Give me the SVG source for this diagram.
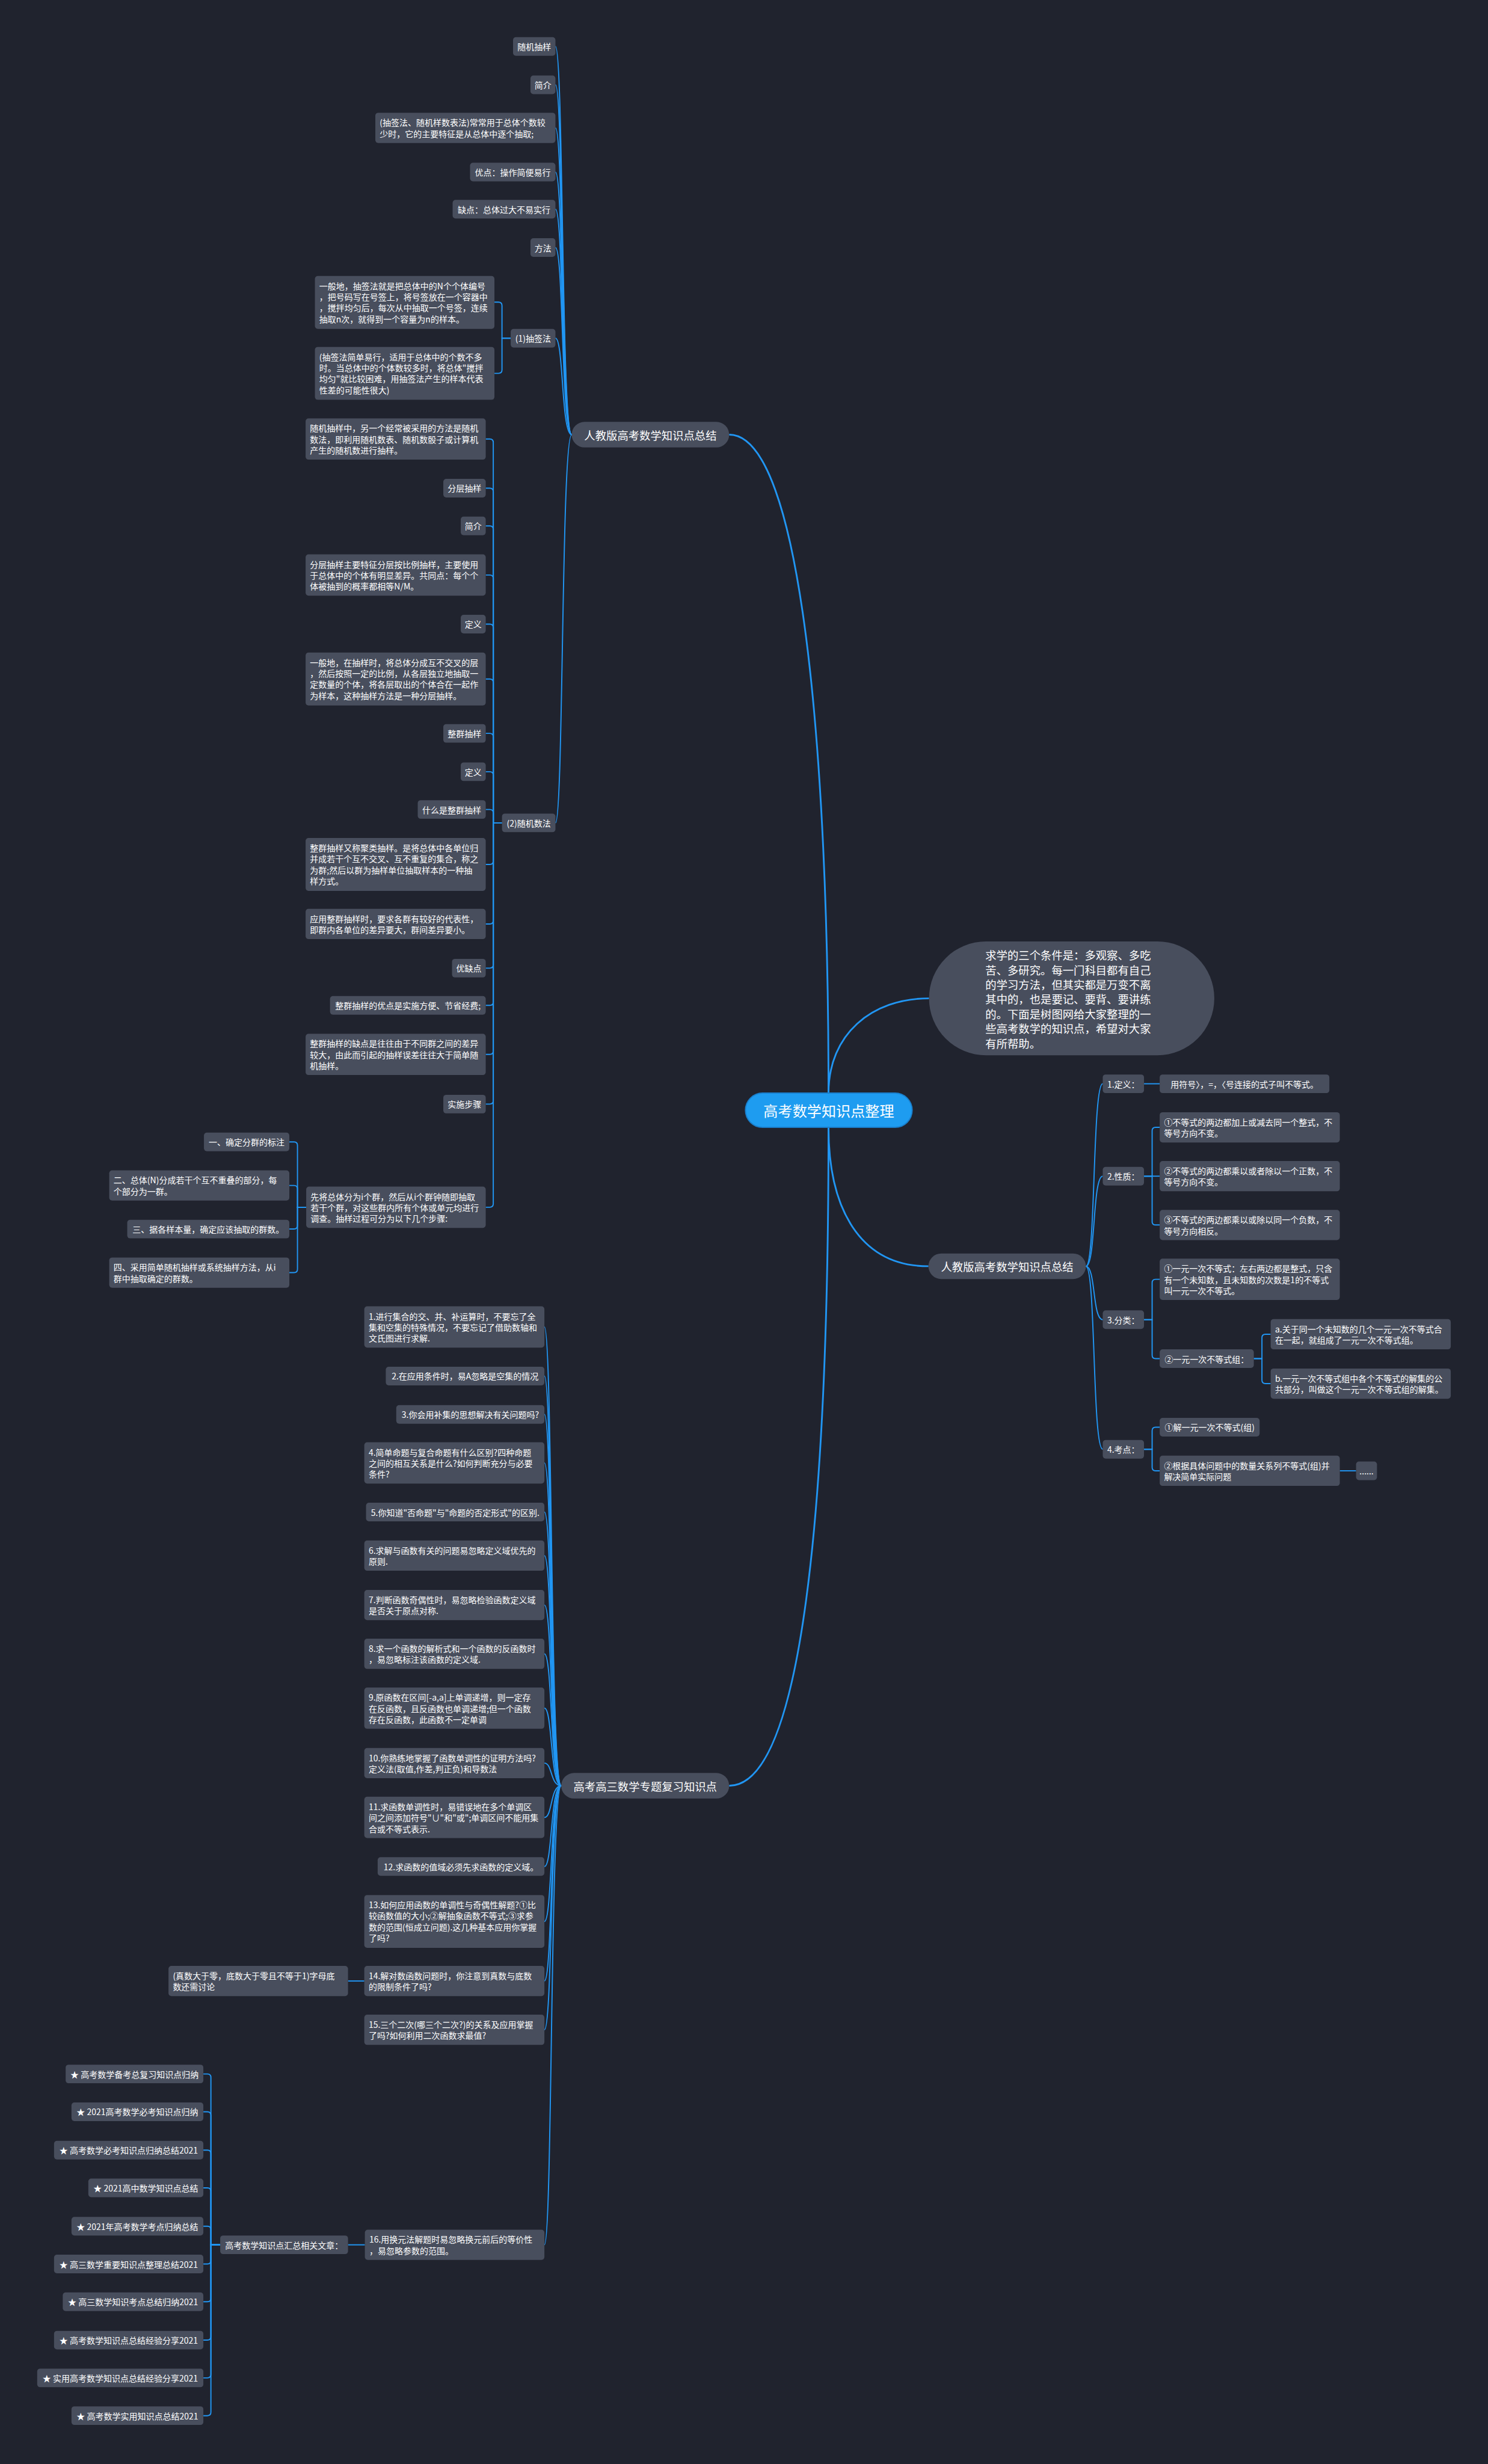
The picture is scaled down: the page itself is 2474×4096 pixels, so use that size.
<svg xmlns="http://www.w3.org/2000/svg" width="2474" height="4096" viewBox="0 0 2474 4096">
<style>
.nd{fill:#484e5d;}
.l1{fill:#484e5d;}
.t{font-family:"Noto Sans CJK SC","Liberation Sans",sans-serif;font-size:14.5px;fill:#ffffff;dominant-baseline:central;}
.m{text-anchor:middle;}
.t1{font-family:"Noto Sans CJK SC","Liberation Sans",sans-serif;font-size:19px;fill:#ffffff;dominant-baseline:central;}
.c{fill:none;stroke:#2196f3;stroke-width:2;}
.c3{fill:none;stroke:#2196f3;stroke-width:3;}
</style>
<rect x="0" y="0" width="2474" height="4096" fill="#20232e"/>
<g transform="scale(0.966)">
<g id="connectors">
<path class="c3" d="M1426 1881 C1426 1300 1380 748 1255 748"/>
<path class="c3" d="M1426 1881 C1426 1780 1500 1718 1599 1718"/>
<path class="c3" d="M1426 1940 C1426 2080 1480 2179 1598 2179"/>
<path class="c3" d="M1426 1940 C1426 2600 1380 3073 1255 3073"/>
<path class="c" d="M956 80 C970 80 966 748 984 748"/>
<path class="c" d="M956 146 C970 146 966 748 984 748"/>
<path class="c" d="M956 220 C970 220 966 748 984 748"/>
<path class="c" d="M956 296 C970 296 966 748 984 748"/>
<path class="c" d="M956 360 C970 360 966 748 984 748"/>
<path class="c" d="M956 426 C970 426 966 748 984 748"/>
<path class="c" d="M956 582 C970 582 966 748 984 748"/>
<path class="c" d="M956 1416 C970 1416 966 748 984 748"/>
<path class="c" d="M879 582 H864 V526 Q864 520 858 520 H851"/>
<path class="c" d="M879 582 H864 V636.5 Q864 642.5 858 642.5 H851"/>
<path class="c" d="M864 1416 H849 V761.5 Q849 755.5 843 755.5 H836"/>
<path class="c" d="M864 1416 H849 V846 Q849 840 843 840 H836"/>
<path class="c" d="M864 1416 H849 V911 Q849 905 843 905 H836"/>
<path class="c" d="M864 1416 H849 V995.5 Q849 989.5 843 989.5 H836"/>
<path class="c" d="M864 1416 H849 V1080 Q849 1074 843 1074 H836"/>
<path class="c" d="M864 1416 H849 V1174.5 Q849 1168.5 843 1168.5 H836"/>
<path class="c" d="M864 1416 H849 V1268 Q849 1262 843 1262 H836"/>
<path class="c" d="M864 1416 H849 V1334 Q849 1328 843 1328 H836"/>
<path class="c" d="M864 1416 H849 V1399 Q849 1393 843 1393 H836"/>
<path class="c" d="M864 1416 H849 V1481.5 Q849 1487.5 843 1487.5 H836"/>
<path class="c" d="M864 1416 H849 V1584 Q849 1590 843 1590 H836"/>
<path class="c" d="M864 1416 H849 V1660 Q849 1666 843 1666 H836"/>
<path class="c" d="M864 1416 H849 V1724 Q849 1730 843 1730 H836"/>
<path class="c" d="M864 1416 H849 V1808.5 Q849 1814.5 843 1814.5 H836"/>
<path class="c" d="M864 1416 H849 V1894 Q849 1900 843 1900 H836"/>
<path class="c" d="M864 1416 H849 V2071.5 Q849 2077.5 843 2077.5 H836"/>
<path class="c" d="M527 2077.5 H512 V1971 Q512 1965 506 1965 H498"/>
<path class="c" d="M527 2077.5 H512 V2046 Q512 2040 506 2040 H498"/>
<path class="c" d="M527 2077.5 H512 V2109 Q512 2115 506 2115 H498"/>
<path class="c" d="M527 2077.5 H512 V2184 Q512 2190 506 2190 H498"/>
<path class="c" d="M1869 2179 C1886 2179 1880 1865 1898 1865"/>
<path class="c" d="M1869 2179 C1886 2179 1880 2024 1898 2024"/>
<path class="c" d="M1869 2179 C1886 2179 1880 2271 1898 2271"/>
<path class="c" d="M1869 2179 C1886 2179 1880 2494 1898 2494"/>
<path class="c" d="M1969 1865 H1996"/>
<path class="c" d="M1969 2024 H1983 V1946 Q1983 1940 1989 1940 H1996"/>
<path class="c" d="M1969 2024 H1996"/>
<path class="c" d="M1969 2024 H1983 V2102 Q1983 2108 1989 2108 H1996"/>
<path class="c" d="M1969 2271 H1983 V2207.5 Q1983 2201.5 1989 2201.5 H1996"/>
<path class="c" d="M1969 2271 H1983 V2332 Q1983 2338 1989 2338 H1996"/>
<path class="c" d="M2158 2338 H2172 V2302 Q2172 2296 2178 2296 H2187"/>
<path class="c" d="M2158 2338 H2172 V2375 Q2172 2381 2178 2381 H2187"/>
<path class="c" d="M1969 2494 H1983 V2462 Q1983 2456 1989 2456 H1996"/>
<path class="c" d="M1969 2494 H1983 V2525 Q1983 2531 1989 2531 H1996"/>
<path class="c" d="M2306 2531 H2334"/>
<path class="c" d="M937 2283.5 C951 2283.5 947 3073 966 3073"/>
<path class="c" d="M937 2368 C951 2368 947 3073 966 3073"/>
<path class="c" d="M937 2434 C951 2434 947 3073 966 3073"/>
<path class="c" d="M937 2517.5 C951 2517.5 947 3073 966 3073"/>
<path class="c" d="M937 2602 C951 2602 947 3073 966 3073"/>
<path class="c" d="M937 2677 C951 2677 947 3073 966 3073"/>
<path class="c" d="M937 2762 C951 2762 947 3073 966 3073"/>
<path class="c" d="M937 2846 C951 2846 947 3073 966 3073"/>
<path class="c" d="M937 2939.5 C951 2939.5 947 3073 966 3073"/>
<path class="c" d="M937 3034 C951 3034 947 3073 966 3073"/>
<path class="c" d="M937 3127.5 C951 3127.5 947 3073 966 3073"/>
<path class="c" d="M937 3212 C951 3212 947 3073 966 3073"/>
<path class="c" d="M937 3306.5 C951 3306.5 947 3073 966 3073"/>
<path class="c" d="M937 3409 C951 3409 947 3073 966 3073"/>
<path class="c" d="M937 3493 C951 3493 947 3073 966 3073"/>
<path class="c" d="M937 3863 C951 3863 947 3073 966 3073"/>
<path class="c" d="M627 3409 H599"/>
<path class="c" d="M628 3863 H599"/>
<path class="c" d="M379 3863 H363 V3575 Q363 3569 357 3569 H350"/>
<path class="c" d="M379 3863 H363 V3640 Q363 3634 357 3634 H350"/>
<path class="c" d="M379 3863 H363 V3706 Q363 3700 357 3700 H350"/>
<path class="c" d="M379 3863 H363 V3771 Q363 3765 357 3765 H350"/>
<path class="c" d="M379 3863 H363 V3837 Q363 3831 357 3831 H350"/>
<path class="c" d="M379 3863 H363 V3890 Q363 3896 357 3896 H350"/>
<path class="c" d="M379 3863 H363 V3955 Q363 3961 357 3961 H350"/>
<path class="c" d="M379 3863 H363 V4021 Q363 4027 357 4027 H350"/>
<path class="c" d="M379 3863 H363 V4086 Q363 4092 357 4092 H350"/>
<path class="c" d="M379 3863 H363 V4151 Q363 4157 357 4157 H350"/>
</g>

<g id="root"><rect x="1283" y="1881" width="287" height="59" rx="29.5" fill="#1e9cf0" stroke="#1a7fcc" stroke-width="2"/><text x="1426.5" y="1910.5" class="t1 m" style="font-size:25px">高考数学知识点整理</text></g>

<g id="intro"><rect x="1599" y="1620" width="491" height="196" rx="98" class="l1"/><text class="t1" style="font-size:19px"><tspan x="1696" y="1643">求学的三个条件是：多观察、多吃</tspan><tspan x="1696" y="1668.3">苦、多研究。每一门科目都有自己</tspan><tspan x="1696" y="1693.6">的学习方法，但其实都是万变不离</tspan><tspan x="1696" y="1718.9">其中的，也是要记、要背、要讲练</tspan><tspan x="1696" y="1744.2">的。下面是树图网给大家整理的一</tspan><tspan x="1696" y="1769.5">些高考数学的知识点，希望对大家</tspan><tspan x="1696" y="1794.8">有所帮助。</tspan></text></g>

<g id="b1"><rect x="984" y="726" width="271" height="44" rx="22" class="l1"/><text x="1119.5" y="748" class="t1 m">人教版高考数学知识点总结</text></g>
<g id="b2"><rect x="1598" y="2157" width="271" height="44" rx="22" class="l1"/><text x="1733.5" y="2179" class="t1 m">人教版高考数学知识点总结</text></g>
<g id="b3"><rect x="966" y="3051" width="289" height="44" rx="22" class="l1"/><text x="1110.5" y="3073" class="t1 m">高考高三数学专题复习知识点</text></g>

<g id="n1"><rect x="883" y="64" width="73" height="32" rx="5" class="nd"/><text x="919.5" y="80" class="t m">随机抽样</text></g>
<g id="n2"><rect x="913" y="130" width="43" height="32" rx="5" class="nd"/><text x="934.5" y="146" class="t m">简介</text></g>
<g id="n3"><rect x="646" y="194" width="310" height="52" rx="5" class="nd"/><text class="t"><tspan x="653.5" y="210.5">(抽签法、随机样数表法)常常用于总体个数较</tspan><tspan x="653.5" y="229.5">少时，它的主要特征是从总体中逐个抽取;</tspan></text></g>
<g id="n4"><rect x="809" y="280" width="147" height="32" rx="5" class="nd"/><text x="882.5" y="296" class="t m">优点：操作简便易行</text></g>
<g id="n5"><rect x="779" y="344" width="177" height="32" rx="5" class="nd"/><text x="867.5" y="360" class="t m">缺点：总体过大不易实行</text></g>
<g id="n6"><rect x="913" y="410" width="43" height="32" rx="5" class="nd"/><text x="934.5" y="426" class="t m">方法</text></g>
<g id="n7"><rect x="879" y="566" width="77" height="32" rx="5" class="nd"/><text x="917.5" y="582" class="t m">(1)抽签法</text></g>
<g id="n7a"><rect x="542" y="475" width="309" height="91" rx="5" class="nd"/><text class="t"><tspan x="549.5" y="491.5">一般地，抽签法就是把总体中的N个个体编号</tspan><tspan x="549.5" y="510.5">，把号码写在号签上，将号签放在一个容器中</tspan><tspan x="549.5" y="529.5">，搅拌均匀后，每次从中抽取一个号签，连续</tspan><tspan x="549.5" y="548.5">抽取n次，就得到一个容量为n的样本。</tspan></text></g>
<g id="n7b"><rect x="542" y="597" width="309" height="91" rx="5" class="nd"/><text class="t"><tspan x="549.5" y="613.5">(抽签法简单易行，适用于总体中的个数不多</tspan><tspan x="549.5" y="632.5">时。当总体中的个体数较多时，将总体"搅拌</tspan><tspan x="549.5" y="651.5">均匀"就比较困难，用抽签法产生的样本代表</tspan><tspan x="549.5" y="670.5">性差的可能性很大)</tspan></text></g>
<g id="n8"><rect x="864" y="1400" width="92" height="32" rx="5" class="nd"/><text x="910" y="1416" class="t m">(2)随机数法</text></g>
<g id="n8a"><rect x="526" y="720" width="310" height="71" rx="5" class="nd"/><text class="t"><tspan x="533.5" y="736.5">随机抽样中，另一个经常被采用的方法是随机</tspan><tspan x="533.5" y="755.5">数法，即利用随机数表、随机数骰子或计算机</tspan><tspan x="533.5" y="774.5">产生的随机数进行抽样。</tspan></text></g>
<g id="n8b"><rect x="763" y="824" width="73" height="32" rx="5" class="nd"/><text x="799.5" y="840" class="t m">分层抽样</text></g>
<g id="n8c"><rect x="793" y="889" width="43" height="32" rx="5" class="nd"/><text x="814.5" y="905" class="t m">简介</text></g>
<g id="n8d"><rect x="526" y="954" width="310" height="71" rx="5" class="nd"/><text class="t"><tspan x="533.5" y="970.5">分层抽样主要特征分层按比例抽样，主要使用</tspan><tspan x="533.5" y="989.5">于总体中的个体有明显差异。共同点：每个个</tspan><tspan x="533.5" y="1008.5">体被抽到的概率都相等N/M。</tspan></text></g>
<g id="n8e"><rect x="793" y="1058" width="43" height="32" rx="5" class="nd"/><text x="814.5" y="1074" class="t m">定义</text></g>
<g id="n8f"><rect x="526" y="1123" width="310" height="91" rx="5" class="nd"/><text class="t"><tspan x="533.5" y="1139.5">一般地，在抽样时，将总体分成互不交叉的层</tspan><tspan x="533.5" y="1158.5">，然后按照一定的比例，从各层独立地抽取一</tspan><tspan x="533.5" y="1177.5">定数量的个体，将各层取出的个体合在一起作</tspan><tspan x="533.5" y="1196.5">为样本，这种抽样方法是一种分层抽样。</tspan></text></g>
<g id="n8g"><rect x="763" y="1246" width="73" height="32" rx="5" class="nd"/><text x="799.5" y="1262" class="t m">整群抽样</text></g>
<g id="n8h"><rect x="793" y="1312" width="43" height="32" rx="5" class="nd"/><text x="814.5" y="1328" class="t m">定义</text></g>
<g id="n8i"><rect x="719" y="1377" width="117" height="32" rx="5" class="nd"/><text x="777.5" y="1393" class="t m">什么是整群抽样</text></g>
<g id="n8j"><rect x="526" y="1442" width="310" height="91" rx="5" class="nd"/><text class="t"><tspan x="533.5" y="1458.5">整群抽样又称聚类抽样。是将总体中各单位归</tspan><tspan x="533.5" y="1477.5">并成若干个互不交叉、互不重复的集合，称之</tspan><tspan x="533.5" y="1496.5">为群;然后以群为抽样单位抽取样本的一种抽</tspan><tspan x="533.5" y="1515.5">样方式。</tspan></text></g>
<g id="n8k"><rect x="526" y="1564" width="310" height="52" rx="5" class="nd"/><text class="t"><tspan x="533.5" y="1580.5">应用整群抽样时，要求各群有较好的代表性，</tspan><tspan x="533.5" y="1599.5">即群内各单位的差异要大，群间差异要小。</tspan></text></g>
<g id="n8l"><rect x="778" y="1650" width="58" height="32" rx="5" class="nd"/><text x="807" y="1666" class="t m">优缺点</text></g>
<g id="n8m"><rect x="568" y="1714" width="268" height="32" rx="5" class="nd"/><text x="702" y="1730" class="t m">整群抽样的优点是实施方便、节省经费;</text></g>
<g id="n8n"><rect x="526" y="1779" width="310" height="71" rx="5" class="nd"/><text class="t"><tspan x="533.5" y="1795.5">整群抽样的缺点是往往由于不同群之间的差异</tspan><tspan x="533.5" y="1814.5">较大，由此而引起的抽样误差往往大于简单随</tspan><tspan x="533.5" y="1833.5">机抽样。</tspan></text></g>
<g id="n8o"><rect x="763" y="1884" width="73" height="32" rx="5" class="nd"/><text x="799.5" y="1900" class="t m">实施步骤</text></g>
<g id="n8p"><rect x="527" y="2042" width="309" height="71" rx="5" class="nd"/><text class="t"><tspan x="534.5" y="2058.5">先将总体分为i个群，然后从i个群钟随即抽取</tspan><tspan x="534.5" y="2077.5">若干个群，对这些群内所有个体或单元均进行</tspan><tspan x="534.5" y="2096.5">调查。抽样过程可分为以下几个步骤:</tspan></text></g>
<g id="n8p1"><rect x="351" y="1949" width="147" height="32" rx="5" class="nd"/><text x="424.5" y="1965" class="t m">一、确定分群的标注</text></g>
<g id="n8p2"><rect x="188" y="2014" width="310" height="52" rx="5" class="nd"/><text class="t"><tspan x="195.5" y="2030.5">二、总体(N)分成若干个互不重叠的部分，每</tspan><tspan x="195.5" y="2049.5">个部分为一群。</tspan></text></g>
<g id="n8p3"><rect x="219" y="2099" width="279" height="32" rx="5" class="nd"/><text x="358.5" y="2115" class="t m">三、据各样本量，确定应该抽取的群数。</text></g>
<g id="n8p4"><rect x="188" y="2164" width="310" height="52" rx="5" class="nd"/><text class="t"><tspan x="195.5" y="2180.5">四、采用简单随机抽样或系统抽样方法，从i</tspan><tspan x="195.5" y="2199.5">群中抽取确定的群数。</tspan></text></g>

<g id="r1"><rect x="1898" y="1849" width="71" height="32" rx="5" class="nd"/><text x="1933.5" y="1865" class="t m">1.定义：</text></g>
<g id="r1a"><rect x="1996" y="1849" width="292" height="32" rx="5" class="nd"/><text x="2142" y="1865" class="t m">用符号〉，=，〈号连接的式子叫不等式。</text></g>
<g id="r2"><rect x="1898" y="2008" width="71" height="32" rx="5" class="nd"/><text x="1933.5" y="2024" class="t m">2.性质：</text></g>
<g id="r2a"><rect x="1996" y="1914" width="310" height="52" rx="5" class="nd"/><text class="t"><tspan x="2003.5" y="1930.5">①不等式的两边都加上或减去同一个整式，不</tspan><tspan x="2003.5" y="1949.5">等号方向不变。</tspan></text></g>
<g id="r2b"><rect x="1996" y="1998" width="310" height="52" rx="5" class="nd"/><text class="t"><tspan x="2003.5" y="2014.5">②不等式的两边都乘以或者除以一个正数，不</tspan><tspan x="2003.5" y="2033.5">等号方向不变。</tspan></text></g>
<g id="r2c"><rect x="1996" y="2082" width="310" height="52" rx="5" class="nd"/><text class="t"><tspan x="2003.5" y="2098.5">③不等式的两边都乘以或除以同一个负数，不</tspan><tspan x="2003.5" y="2117.5">等号方向相反。</tspan></text></g>
<g id="r3"><rect x="1898" y="2255" width="71" height="32" rx="5" class="nd"/><text x="1933.5" y="2271" class="t m">3.分类：</text></g>
<g id="r3a"><rect x="1996" y="2166" width="310" height="71" rx="5" class="nd"/><text class="t"><tspan x="2003.5" y="2182.5">①一元一次不等式：左右两边都是整式，只含</tspan><tspan x="2003.5" y="2201.5">有一个未知数，且未知数的次数是1的不等式</tspan><tspan x="2003.5" y="2220.5">叫一元一次不等式。</tspan></text></g>
<g id="r3b"><rect x="1996" y="2322" width="162" height="32" rx="5" class="nd"/><text x="2077" y="2338" class="t m">②一元一次不等式组：</text></g>
<g id="r3b1"><rect x="2187" y="2270" width="310" height="52" rx="5" class="nd"/><text class="t"><tspan x="2194.5" y="2286.5">a.关于同一个未知数的几个一元一次不等式合</tspan><tspan x="2194.5" y="2305.5">在一起，就组成了一元一次不等式组。</tspan></text></g>
<g id="r3b2"><rect x="2187" y="2355" width="310" height="52" rx="5" class="nd"/><text class="t"><tspan x="2194.5" y="2371.5">b.一元一次不等式组中各个不等式的解集的公</tspan><tspan x="2194.5" y="2390.5">共部分，叫做这个一元一次不等式组的解集。</tspan></text></g>
<g id="r4"><rect x="1898" y="2478" width="71" height="32" rx="5" class="nd"/><text x="1933.5" y="2494" class="t m">4.考点：</text></g>
<g id="r4a"><rect x="1996" y="2440" width="172" height="32" rx="5" class="nd"/><text x="2082" y="2456" class="t m">①解一元一次不等式(组)</text></g>
<g id="r4b"><rect x="1996" y="2505" width="310" height="52" rx="5" class="nd"/><text class="t"><tspan x="2003.5" y="2521.5">②根据具体问题中的数量关系列不等式(组)并</tspan><tspan x="2003.5" y="2540.5">解决简单实际问题</tspan></text></g>
<g id="r4b1"><rect x="2334" y="2515" width="36" height="32" rx="5" class="nd"/><text x="2352" y="2531" class="t m">......</text></g>

<g id="q1"><rect x="627" y="2248" width="310" height="71" rx="5" class="nd"/><text class="t"><tspan x="634.5" y="2264.5">1.进行集合的交、并、补运算时，不要忘了全</tspan><tspan x="634.5" y="2283.5">集和空集的特殊情况，不要忘记了借助数轴和</tspan><tspan x="634.5" y="2302.5">文氏图进行求解.</tspan></text></g>
<g id="q2"><rect x="664" y="2352" width="273" height="32" rx="5" class="nd"/><text x="800.5" y="2368" class="t m">2.在应用条件时，易A忽略是空集的情况</text></g>
<g id="q3"><rect x="682" y="2418" width="255" height="32" rx="5" class="nd"/><text x="809.5" y="2434" class="t m">3.你会用补集的思想解决有关问题吗?</text></g>
<g id="q4"><rect x="627" y="2482" width="310" height="71" rx="5" class="nd"/><text class="t"><tspan x="634.5" y="2498.5">4.简单命题与复合命题有什么区别?四种命题</tspan><tspan x="634.5" y="2517.5">之间的相互关系是什么?如何判断充分与必要</tspan><tspan x="634.5" y="2536.5">条件?</tspan></text></g>
<g id="q5"><rect x="630" y="2586" width="307" height="32" rx="5" class="nd"/><text x="783.5" y="2602" class="t m">5.你知道"否命题"与"命题的否定形式"的区别.</text></g>
<g id="q6"><rect x="627" y="2651" width="310" height="52" rx="5" class="nd"/><text class="t"><tspan x="634.5" y="2667.5">6.求解与函数有关的问题易忽略定义域优先的</tspan><tspan x="634.5" y="2686.5">原则.</tspan></text></g>
<g id="q7"><rect x="627" y="2736" width="310" height="52" rx="5" class="nd"/><text class="t"><tspan x="634.5" y="2752.5">7.判断函数奇偶性时，易忽略检验函数定义域</tspan><tspan x="634.5" y="2771.5">是否关于原点对称.</tspan></text></g>
<g id="q8"><rect x="627" y="2820" width="310" height="52" rx="5" class="nd"/><text class="t"><tspan x="634.5" y="2836.5">8.求一个函数的解析式和一个函数的反函数时</tspan><tspan x="634.5" y="2855.5">，易忽略标注该函数的定义域.</tspan></text></g>
<g id="q9"><rect x="627" y="2904" width="310" height="71" rx="5" class="nd"/><text class="t"><tspan x="634.5" y="2920.5">9.原函数在区间[-a,a]上单调递增，则一定存</tspan><tspan x="634.5" y="2939.5">在反函数，且反函数也单调递增;但一个函数</tspan><tspan x="634.5" y="2958.5">存在反函数，此函数不一定单调</tspan></text></g>
<g id="q10"><rect x="627" y="3008" width="310" height="52" rx="5" class="nd"/><text class="t"><tspan x="634.5" y="3024.5">10.你熟练地掌握了函数单调性的证明方法吗?</tspan><tspan x="634.5" y="3043.5">定义法(取值,作差,判正负)和导数法</tspan></text></g>
<g id="q11"><rect x="627" y="3092" width="310" height="71" rx="5" class="nd"/><text class="t"><tspan x="634.5" y="3108.5">11.求函数单调性时，易错误地在多个单调区</tspan><tspan x="634.5" y="3127.5">间之间添加符号"∪"和"或";单调区间不能用集</tspan><tspan x="634.5" y="3146.5">合或不等式表示.</tspan></text></g>
<g id="q12"><rect x="650" y="3196" width="287" height="32" rx="5" class="nd"/><text x="793.5" y="3212" class="t m">12.求函数的值域必须先求函数的定义域。</text></g>
<g id="q13"><rect x="627" y="3261" width="310" height="91" rx="5" class="nd"/><text class="t"><tspan x="634.5" y="3277.5">13.如何应用函数的单调性与奇偶性解题?①比</tspan><tspan x="634.5" y="3296.5">较函数值的大小;②解抽象函数不等式;③求参</tspan><tspan x="634.5" y="3315.5">数的范围(恒成立问题).这几种基本应用你掌握</tspan><tspan x="634.5" y="3334.5">了吗?</tspan></text></g>
<g id="q14"><rect x="627" y="3383" width="310" height="52" rx="5" class="nd"/><text class="t"><tspan x="634.5" y="3399.5">14.解对数函数问题时，你注意到真数与底数</tspan><tspan x="634.5" y="3418.5">的限制条件了吗?</tspan></text></g>
<g id="q14a"><rect x="290" y="3383" width="309" height="52" rx="5" class="nd"/><text class="t"><tspan x="297.5" y="3399.5">(真数大于零，底数大于零且不等于1)字母底</tspan><tspan x="297.5" y="3418.5">数还需讨论</tspan></text></g>
<g id="q15"><rect x="627" y="3467" width="310" height="52" rx="5" class="nd"/><text class="t"><tspan x="634.5" y="3483.5">15.三个二次(哪三个二次?)的关系及应用掌握</tspan><tspan x="634.5" y="3502.5">了吗?如何利用二次函数求最值?</tspan></text></g>
<g id="q16"><rect x="628" y="3837" width="309" height="52" rx="5" class="nd"/><text class="t"><tspan x="635.5" y="3853.5">16.用换元法解题时易忽略换元前后的等价性</tspan><tspan x="635.5" y="3872.5">，易忽略参数的范围。</tspan></text></g>
<g id="q16a"><rect x="379" y="3847" width="220" height="32" rx="5" class="nd"/><text x="489" y="3863" class="t m">高考数学知识点汇总相关文章：</text></g>

<g id="s1"><rect x="113" y="3553" width="237" height="32" rx="5" class="nd"/><text x="231.5" y="3569" class="t m">★ 高考数学备考总复习知识点归纳</text></g>
<g id="s2"><rect x="123" y="3618" width="227" height="32" rx="5" class="nd"/><text x="236.5" y="3634" class="t m">★ 2021高考数学必考知识点归纳</text></g>
<g id="s3"><rect x="93" y="3684" width="257" height="32" rx="5" class="nd"/><text x="221.5" y="3700" class="t m">★ 高考数学必考知识点归纳总结2021</text></g>
<g id="s4"><rect x="152" y="3749" width="198" height="32" rx="5" class="nd"/><text x="251" y="3765" class="t m">★ 2021高中数学知识点总结</text></g>
<g id="s5"><rect x="123" y="3815" width="227" height="32" rx="5" class="nd"/><text x="236.5" y="3831" class="t m">★ 2021年高考数学考点归纳总结</text></g>
<g id="s6"><rect x="93" y="3880" width="257" height="32" rx="5" class="nd"/><text x="221.5" y="3896" class="t m">★ 高三数学重要知识点整理总结2021</text></g>
<g id="s7"><rect x="108" y="3945" width="242" height="32" rx="5" class="nd"/><text x="229" y="3961" class="t m">★ 高三数学知识考点总结归纳2021</text></g>
<g id="s8"><rect x="93" y="4011" width="257" height="32" rx="5" class="nd"/><text x="221.5" y="4027" class="t m">★ 高考数学知识点总结经验分享2021</text></g>
<g id="s9"><rect x="64" y="4076" width="286" height="32" rx="5" class="nd"/><text x="207" y="4092" class="t m">★ 实用高考数学知识点总结经验分享2021</text></g>
<g id="s10"><rect x="123" y="4141" width="227" height="32" rx="5" class="nd"/><text x="236.5" y="4157" class="t m">★ 高考数学实用知识点总结2021</text></g>
</g>
</svg>
